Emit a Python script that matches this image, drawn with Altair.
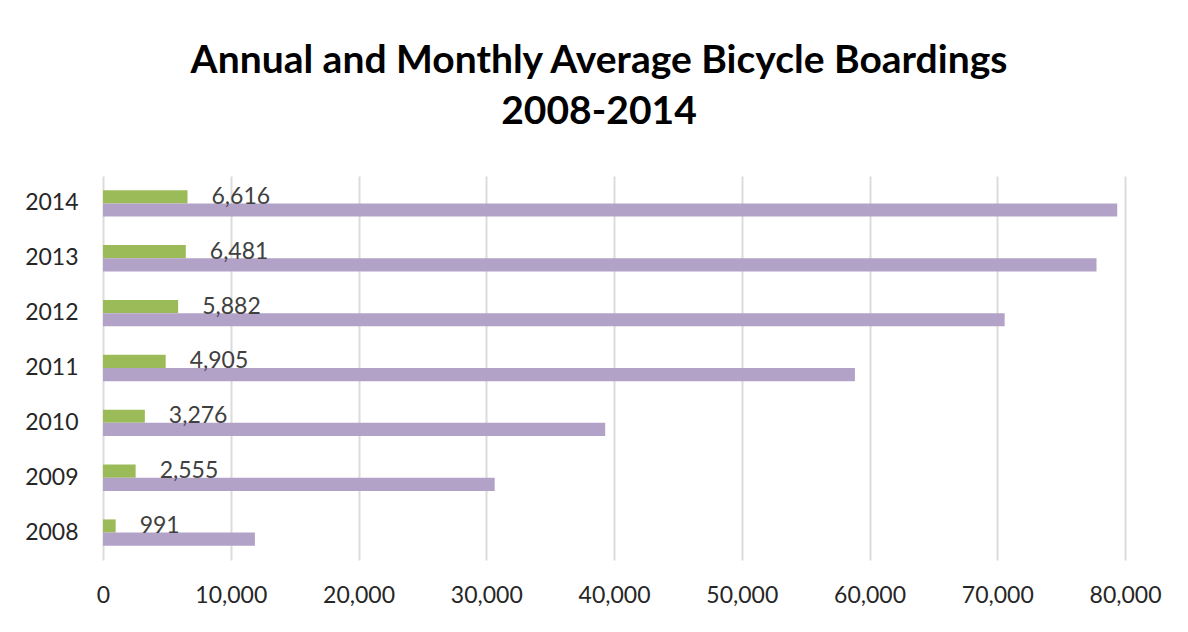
import altair as alt
import pandas as pd

years = ["2008", "2009", "2010", "2011", "2012", "2013", "2014"]
monthly_avg = [991, 2555, 3276, 4905, 5882, 6481, 6616]
annual = [11890, 30660, 39310, 58860, 70580, 77770, 79390]
series_names = ["Monthly Average", "Annual"]
series_colors = ["#9BBB59", "#B3A2C7"]

rows = []
for y, m, a in zip(years, monthly_avg, annual):
    rows.append({"year": y, "series": series_names[0], "value": m})
    rows.append({"year": y, "series": series_names[1], "value": a})
df = pd.DataFrame(rows)
labels_df = df[df["series"] == series_names[0]].copy()

FONT = "Lato"
W, H = 1022, 384

yenc = alt.Y("year:O", sort=list(reversed(years)),
             scale=alt.Scale(paddingInner=0.52, paddingOuter=0.26),
             axis=alt.Axis(title=None, ticks=False, domain=False, labelPadding=25,
                           labelFontSize=23, labelFont=FONT, labelColor="#262626"))
yoff = alt.YOffset("series:N", sort=series_names,
                   scale=alt.Scale(paddingInner=0, paddingOuter=0))

bars = alt.Chart(df).mark_bar().encode(
    x=alt.X("value:Q", scale=alt.Scale(domain=[0, 80000], nice=False),
            axis=alt.Axis(title=None, values=list(range(0, 80001, 10000)), format=",d",
                          ticks=False, domain=False, labelPadding=24, labelFlush=False,
                          labelOverlap=False,
                          labelFontSize=23, labelFont=FONT, labelColor="#262626",
                          grid=True, gridColor="#DCDCDC", gridWidth=2)),
    y=yenc,
    yOffset=yoff,
    color=alt.Color("series:N", sort=series_names,
                    scale=alt.Scale(domain=series_names, range=series_colors), legend=None),
)

texts = alt.Chart(labels_df).mark_text(
    align="left", baseline="middle", dx=24, fontSize=23, font=FONT, color="#404040"
).encode(
    x="value:Q",
    y=alt.Y("year:O", sort=list(reversed(years))),
    yOffset=yoff,
    text=alt.Text("value:Q", format=",d"),
)

chart = alt.layer(bars, texts).properties(
    width=W, height=H,
    title=alt.Title(["Annual and  Monthly Average Bicycle Boardings", "2008-2014"],
                    fontSize=39, font=FONT, fontWeight="bold", color="#000000",
                    lineHeight=51, anchor="middle", frame="group", dx=-15, offset=44),
    padding={"left": 95, "top": 168, "right": 55, "bottom": 64},
    autosize=alt.AutoSizeParams(type="none"),
).configure_view(stroke=None)

chart.save("out.html", embed_options={"renderer": "svg", "actions": False})
